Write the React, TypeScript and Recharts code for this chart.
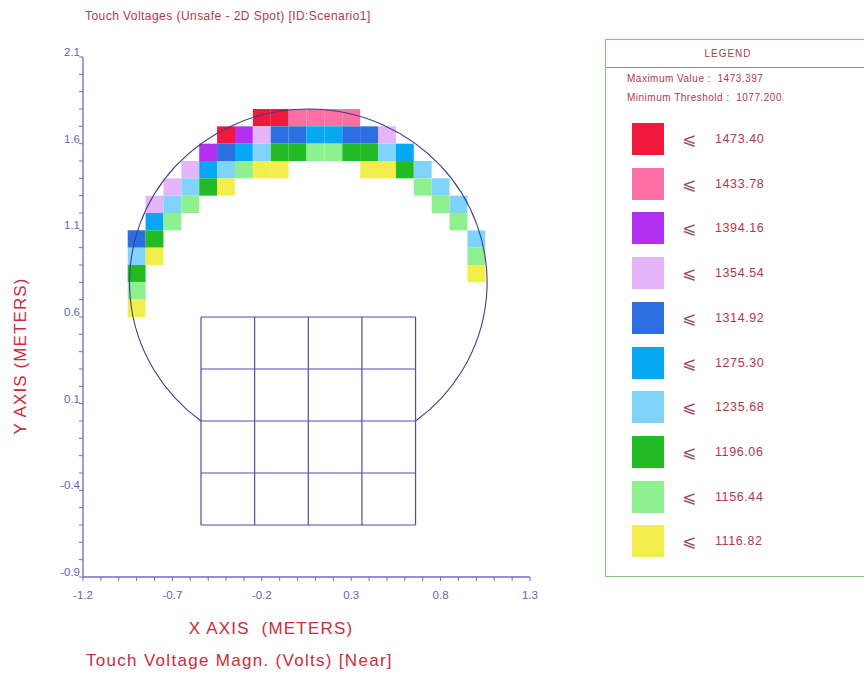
import React from 'react';
import { ScatterChart, Scatter, XAxis, YAxis, ReferenceArea, ReferenceLine } from 'recharts';

// ---------- data ----------
const binUpper = [1116.82, 1156.44, 1196.06, 1235.68, 1275.3, 1314.92, 1354.54, 1394.16, 1433.78, 1473.4];
const binColors = ['#f2ef4d', '#8ff08f', '#23bb25', '#80d3fb', '#06a8f3', '#2b6fe0', '#e4b6f9', '#b330f0', '#fc70a4', '#f2173d'];
const maxValue = '1473.397';
const minThreshold = '1077.200';

const rowYs = [1.75, 1.65, 1.55, 1.45, 1.35, 1.25, 1.15, 1.05, 0.95, 0.85, 0.75, 0.65];
const rowXs = [
  [-0.2, -0.1, 0, 0.1, 0.2, 0.3],
  [-0.4, -0.3, -0.2, -0.1, 0, 0.1, 0.2, 0.3, 0.4, 0.5],
  [-0.5, -0.4, -0.3, -0.2, -0.1, 0, 0.1, 0.2, 0.3, 0.4, 0.5, 0.6],
  [-0.6, -0.5, -0.4, -0.3, -0.2, -0.1, 0.4, 0.5, 0.6, 0.7],
  [-0.7, -0.6, -0.5, -0.4, 0.7, 0.8],
  [-0.8, -0.7, -0.6, 0.8, 0.9],
  [-0.8, -0.7, 0.9],
  [-0.9, -0.8, 1.0],
  [-0.9, -0.8, 1.0],
  [-0.9, 1.0],
  [-0.9],
  [-0.9],
];
const rowValues = [
  [1458, 1473.397, 1428, 1420, 1414, 1406],
  [1442, 1384, 1346, 1302, 1297, 1263, 1258, 1292, 1299, 1341],
  [1371, 1306, 1266, 1221, 1186, 1181, 1149, 1146, 1179, 1187, 1229, 1261],
  [1339, 1259, 1216, 1151, 1106, 1099, 1101, 1110, 1189, 1226],
  [1331, 1223, 1183, 1109, 1151, 1219],
  [1326, 1213, 1143, 1147, 1211],
  [1251, 1139, 1136],
  [1289, 1171, 1206],
  [1210, 1096, 1129],
  [1166, 1103],
  [1133],
  [1101],
];
const cellSize = 0.1;

const gridXs = [-0.54, -0.24, 0.06, 0.36, 0.66];
const gridYs = [-0.6, -0.3, 0, 0.3, 0.6];
const circleCenter = { x: 0.06, y: 0.8 };
const circleRadius = 1.0;

const xTicks = [-1.2, -1.1, -1.0, -0.9, -0.8, -0.7, -0.6, -0.5, -0.4, -0.3, -0.2, -0.1, 0, 0.1, 0.2, 0.3, 0.4, 0.5, 0.6, 0.7, 0.8, 0.9, 1.0, 1.1, 1.2, 1.3];
const yTicks = [-0.9, -0.8, -0.7, -0.6, -0.5, -0.4, -0.3, -0.2, -0.1, 0, 0.1, 0.2, 0.3, 0.4, 0.5, 0.6, 0.7, 0.8, 0.9, 1.0, 1.1, 1.2, 1.3, 1.4, 1.5, 1.6, 1.7, 1.8, 1.9, 2.0, 2.1];
const xMajorTicks = [-1.2, -0.7, -0.2, 0.3, 0.8, 1.3];
const yMajorTicks = [-0.9, -0.4, 0.1, 0.6, 1.1, 1.6, 2.1];

// ---------- style ----------
const FONT = '"Liberation Sans", Arial, sans-serif';
const AXIS = '#6d6dbd';
const TICKTEXT = '#6262b6';
const RED = '#cc2c38';
const DARKRED = '#b2384a';

const colorFor = (v: number) => {
  for (let i = 0; i < binUpper.length; i++) if (v <= binUpper[i] + 1e-9) return binColors[i];
  return binColors[binColors.length - 1];
};

const isMajor = (list: number[], v: number) => list.some((m) => Math.abs(m - v) < 1e-6);

const XTick = (props: any) => {
  const { x, y, payload } = props;
  if (!isMajor(xMajorTicks, payload.value)) return <g />;
  return (
    <text x={x} y={y + 14} dy="0.355em" textAnchor="middle" fill={TICKTEXT} fontSize={11.5} fontFamily={FONT}>
      {Number(payload.value).toFixed(1)}
    </text>
  );
};

const YTick = (props: any) => {
  const { x, y, payload } = props;
  if (!isMajor(yMajorTicks, payload.value)) return <g />;
  return (
    <text x={x + 1} y={y - 1} textAnchor="end" fill={TICKTEXT} fontSize={11.5} fontFamily={FONT}>
      {Number(payload.value).toFixed(1)}
    </text>
  );
};

const gridLeft = Math.min(...gridXs);
const gridRight = Math.max(...gridXs);
const gridBottom = Math.min(...gridYs);
const gridTop = Math.max(...gridYs);
const gridMidY = gridYs[Math.floor(gridYs.length / 2)];

const ArcShape = (props: any) => {
  const { x, y, width, height } = props;
  const rx = width / 2;
  const ry = height / 2;
  const cx = x + rx;
  const cy = y + ry;
  const dxs = (gridLeft - circleCenter.x) / circleRadius;
  const dxe = (gridRight - circleCenter.x) / circleRadius;
  const dy = (gridMidY - circleCenter.y) / circleRadius;
  const sx = cx + dxs * rx;
  const sy = cy - dy * ry;
  const ex = cx + dxe * rx;
  const ey = cy - dy * ry;
  return <path d={`M ${sx} ${sy} A ${rx} ${ry} 0 1 1 ${ex} ${ey}`} fill="none" stroke="#3d3d88" strokeWidth={1.1} />;
};

export default function App() {
  const cells: { x: number; y: number; v: number }[] = [];
  rowYs.forEach((ry, i) => rowXs[i].forEach((rx, j) => cells.push({ x: rx, y: ry, v: rowValues[i][j] })));
  const legendRows = binUpper.map((u, i) => ({ u, c: binColors[i] })).reverse();

  return (
    <div style={{ position: 'absolute', left: 0, top: 0, width: 864, height: 675, overflow: 'hidden', background: '#fff', fontFamily: FONT }}>
      <div style={{ position: 'absolute', left: 85, top: 9, fontSize: 12, lineHeight: '14px', color: DARKRED, letterSpacing: 0.45, whiteSpace: 'nowrap' }}>
        Touch Voltages (Unsafe - 2D Spot) [ID:Scenario1]
      </div>
      <div style={{ position: 'absolute', left: 0, top: 0 }}>
        <ScatterChart width={560} height={675} margin={{ top: 57, right: 30, bottom: 68, left: 43 }}>
          <XAxis
            type="number"
            dataKey="x"
            domain={[-1.2, 1.3]}
            ticks={xTicks}
            interval={0}
            allowDataOverflow
            height={30}
            tickSize={4}
            tickMargin={0}
            stroke={AXIS}
            axisLine={{ stroke: AXIS, strokeWidth: 1.3 }}
            tickLine={{ stroke: AXIS }}
            tick={<XTick />}
          />
          <YAxis
            type="number"
            dataKey="y"
            domain={[-0.9, 2.1]}
            ticks={yTicks}
            interval={0}
            allowDataOverflow
            width={40}
            tickSize={4}
            tickMargin={0}
            stroke={AXIS}
            axisLine={{ stroke: AXIS, strokeWidth: 1.3 }}
            tickLine={{ stroke: AXIS }}
            tick={<YTick />}
          />
          {cells.map((c, i) => (
            <ReferenceArea
              key={'c' + i}
              x1={c.x - cellSize / 2}
              x2={c.x + cellSize / 2}
              y1={c.y - cellSize / 2}
              y2={c.y + cellSize / 2}
              fill={colorFor(c.v)}
              fillOpacity={1}
              stroke="none"
              ifOverflow="visible"
            />
          ))}
          <ReferenceArea
            x1={circleCenter.x - circleRadius}
            x2={circleCenter.x + circleRadius}
            y1={circleCenter.y - circleRadius}
            y2={circleCenter.y + circleRadius}
            ifOverflow="visible"
            shape={<ArcShape />}
          />
          {gridXs.map((gx, i) => (
            <ReferenceLine
              key={'gx' + i}
              segment={[{ x: gx, y: gridBottom }, { x: gx, y: gridTop }]}
              stroke="#4d4db0"
              strokeWidth={1.2}
              ifOverflow="visible"
            />
          ))}
          {gridYs.map((gy, i) => (
            <ReferenceLine
              key={'gy' + i}
              segment={[{ x: gridLeft, y: gy }, { x: gridRight, y: gy }]}
              stroke="#4d4db0"
              strokeWidth={1.2}
              ifOverflow="visible"
            />
          ))}
          <Scatter data={cells} isAnimationActive={false} shape={() => <g />} />
        </ScatterChart>
      </div>

      <div
        style={{
          position: 'absolute',
          left: 21,
          top: 356,
          transform: 'translate(-50%, -50%) rotate(-90deg)',
          fontSize: 17,
          letterSpacing: 1.1,
          color: RED,
          whiteSpace: 'nowrap',
        }}
      >
        Y AXIS (METERS)
      </div>
      <div style={{ position: 'absolute', left: 271, top: 629, transform: 'translate(-50%, -50%)', fontSize: 17, letterSpacing: 1.2, color: RED, whiteSpace: 'pre' }}>
        X AXIS  (METERS)
      </div>
      <div style={{ position: 'absolute', left: 86, top: 661, transform: 'translateY(-50%)', fontSize: 17, letterSpacing: 1.3, color: RED, whiteSpace: 'nowrap' }}>
        Touch Voltage Magn. (Volts) [Near]
      </div>

      <div style={{ position: 'absolute', left: 605, top: 39, width: 262, height: 538, border: '1px solid #80c480', boxSizing: 'border-box' }}>
        <div style={{ position: 'absolute', left: 0, top: 0, width: 244, height: 27, lineHeight: '27px', textAlign: 'center', fontSize: 10, letterSpacing: 1, color: DARKRED }}>
          LEGEND
        </div>
        <div style={{ position: 'absolute', left: 0, right: 0, top: 27, borderBottom: '1px solid #9090bc' }} />
        <div style={{ position: 'absolute', left: 21, top: 33, fontSize: 10, lineHeight: '12px', letterSpacing: 0.5, color: DARKRED, whiteSpace: 'pre' }}>
          {'Maximum Value :  ' + maxValue}
        </div>
        <div style={{ position: 'absolute', left: 21, top: 52, fontSize: 10, lineHeight: '12px', letterSpacing: 0.5, color: DARKRED, whiteSpace: 'pre' }}>
          {'Minimum Threshold :  ' + minThreshold}
        </div>
        {legendRows.map((r, i) => (
          <div key={i} style={{ position: 'absolute', left: 0, top: 83 + i * 44.7, height: 32, width: 240 }}>
            <div style={{ position: 'absolute', left: 26, top: 0, width: 32, height: 32, background: r.c }} />
            <div style={{ position: 'absolute', left: 76, top: 0, lineHeight: '32px', fontSize: 17, color: '#9a4a66', fontFamily: '"DejaVu Sans", sans-serif' }}>
              ⩽
            </div>
            <div style={{ position: 'absolute', left: 109, top: 0, lineHeight: '32px', fontSize: 12.5, letterSpacing: 0.6, color: DARKRED }}>
              {r.u.toFixed(2)}
            </div>
          </div>
        ))}
      </div>
    </div>
  );
}
